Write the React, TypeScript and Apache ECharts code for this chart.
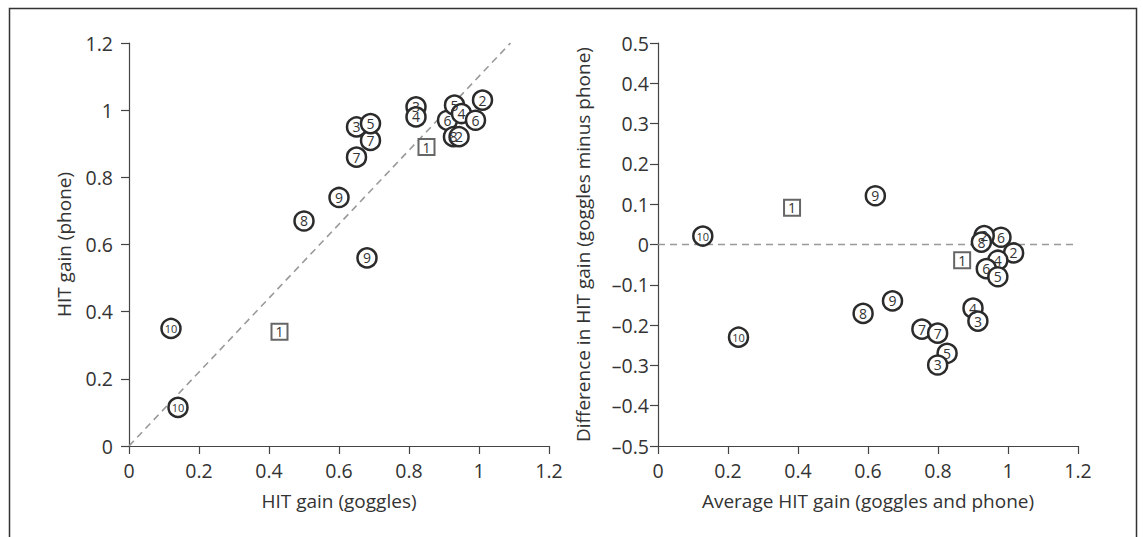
import React, { useEffect, useRef } from "react";
import * as echarts from "echarts";

// Left panel: HIT gain goggles (x) vs phone (y)
const leftCircleLabels = ["10", "10", "9", "9", "8", "7", "7", "3", "5", "3", "4", "6", "5", "4", "6", "2", "8", "2"];
const leftCircleGoggles = [0.12, 0.14, 0.60, 0.68, 0.50, 0.65, 0.69, 0.65, 0.69, 0.82, 0.82, 0.91, 0.93, 0.95, 0.99, 1.01, 0.927, 0.943];
const leftCirclePhone = [0.35, 0.115, 0.74, 0.56, 0.67, 0.86, 0.91, 0.95, 0.96, 1.01, 0.98, 0.97, 1.015, 0.99, 0.97, 1.03, 0.921, 0.921];
const leftSquareGoggles = [0.43, 0.85];
const leftSquarePhone = [0.34, 0.89];
const leftRefX = [0, 1.09];
const leftRefY = [0, 1.2];

// Right panel: average (x) vs difference (y)
const rightCircleLabels = ["10", "10", "9", "9", "8", "7", "7", "5", "3", "4", "3", "6", "2", "4", "6", "5", "2", "8"];
const rightCircleAvg = [0.23, 0.128, 0.621, 0.67, 0.586, 0.754, 0.799, 0.826, 0.799, 0.90, 0.914, 0.98, 1.016, 0.971, 0.938, 0.971, 0.932, 0.924];
const rightCircleDiff = [-0.23, 0.021, 0.121, -0.14, -0.171, -0.21, -0.22, -0.27, -0.299, -0.158, -0.19, 0.018, -0.021, -0.039, -0.06, -0.08, 0.022, 0.006];
const rightSquareAvg = [0.383, 0.869];
const rightSquareDiff = [0.091, -0.039];
const rightRefX = [0, 1.2];
const rightRefY = [0, 0];

const xTicksMax = 1.2;
const leftYMax = 1.2;
const rightYMin = -0.5;
const rightYMax = 0.5;

const FONT = "Open Sans";
const TEXT = "#333";
const AXIS = "#444";
const TICK_FS = 19.5;
const NAME_FS = 19;

function fmt(v: number): string {
  const r = Math.round(v * 10) / 10;
  if (r === 0) return "0";
  const s = String(Math.abs(r));
  return r < 0 ? "\u2013" + s : s;
}

function axisCommon(extra: any, labelMargin: number) {
  return {
    type: "value",
    splitLine: { show: false },
    axisLine: { show: true, onZero: false, lineStyle: { color: AXIS, width: 1.2 } },
    axisTick: { show: true, inside: false, length: 8, lineStyle: { color: AXIS, width: 1.2 } },
    axisLabel: { color: TEXT, fontFamily: FONT, fontSize: TICK_FS, formatter: fmt, margin: labelMargin },
    nameLocation: "middle",
    nameTextStyle: { color: TEXT, fontFamily: FONT, fontSize: NAME_FS },
    ...extra,
  };
}

function circleData(labels: string[], xs: number[], ys: number[]) {
  return labels.map((l, i) => ({
    name: l,
    value: [xs[i], ys[i]],
    label: {
      show: true,
      position: "inside",
      formatter: "{b}",
      color: TEXT,
      fontFamily: FONT,
      fontSize: l.length > 1 ? 11 : 14,
    },
  }));
}

function squareData(xs: number[], ys: number[]) {
  return xs.map((x, i) => ({ name: "1", value: [x, ys[i]] }));
}

export default function App() {
  const ref = useRef<HTMLDivElement>(null);
  useEffect(() => {
    document.body.style.margin = "0";
    if (!ref.current) return;
    const chart = echarts.init(ref.current, undefined, { renderer: "svg" });
    const circleStyle = {
      symbol: "circle",
      symbolSize: 19,
      itemStyle: { color: "#fff", borderColor: "#2b2b2b", borderWidth: 2.5, opacity: 1 },
      label: {
        show: true,
        position: "inside",
        formatter: "{b}",
        color: TEXT,
        fontFamily: FONT,
        fontSize: 14,
      },
      z: 3,
    };
    const squareStyle = {
      symbol: "rect",
      symbolSize: 16,
      itemStyle: { color: "#fff", borderColor: "#666", borderWidth: 2, opacity: 1 },
      label: {
        show: true,
        position: "inside",
        formatter: "{b}",
        color: TEXT,
        fontFamily: FONT,
        fontSize: 14,
      },
      z: 3,
    };
    const dashed = {
      type: "line",
      showSymbol: false,
      symbol: "none",
      silent: true,
      lineStyle: { color: "#999", width: 1.6, type: [7, 5] },
      z: 1,
    };
    chart.setOption({
      animation: false,
      backgroundColor: "#fff",
      textStyle: { fontFamily: FONT },
      graphic: [
        {
          type: "rect",
          shape: { x: 9.5, y: 8.5, width: 1127, height: 640 },
          style: { fill: "none", stroke: "#333", lineWidth: 1.5 },
          silent: true,
        },
      ],
      grid: [
        { left: 129, top: 43, width: 420, height: 403 },
        { left: 658, top: 43, width: 420, height: 403 },
      ],
      xAxis: [
        axisCommon({
          gridIndex: 0,
          min: 0,
          max: xTicksMax,
          interval: 0.2,
          name: "HIT gain (goggles)",
          nameGap: 45,
        }, 14),
        axisCommon({
          gridIndex: 1,
          min: 0,
          max: xTicksMax,
          interval: 0.2,
          name: "Average HIT gain (goggles and phone)",
          nameGap: 45,
        }, 14),
      ],
      yAxis: [
        axisCommon({
          gridIndex: 0,
          min: 0,
          max: leftYMax,
          interval: 0.2,
          name: "HIT gain (phone)",
          nameGap: 56,
        }, 16),
        axisCommon({
          gridIndex: 1,
          min: rightYMin,
          max: rightYMax,
          interval: 0.1,
          name: "Difference in HIT gain (goggles minus phone)",
          nameGap: 66,
        }, 9),
      ],
      series: [
        {
          ...dashed,
          xAxisIndex: 0,
          yAxisIndex: 0,
          data: leftRefX.map((x, i) => [x, leftRefY[i]]),
        },
        {
          ...dashed,
          xAxisIndex: 1,
          yAxisIndex: 1,
          data: rightRefX.map((x, i) => [x, rightRefY[i]]),
        },
        {
          type: "scatter",
          xAxisIndex: 0,
          yAxisIndex: 0,
          ...circleStyle,
          data: circleData(leftCircleLabels, leftCircleGoggles, leftCirclePhone),
        },
        {
          type: "scatter",
          xAxisIndex: 0,
          yAxisIndex: 0,
          ...squareStyle,
          data: squareData(leftSquareGoggles, leftSquarePhone),
        },
        {
          type: "scatter",
          xAxisIndex: 1,
          yAxisIndex: 1,
          ...circleStyle,
          data: circleData(rightCircleLabels, rightCircleAvg, rightCircleDiff),
        },
        {
          type: "scatter",
          xAxisIndex: 1,
          yAxisIndex: 1,
          ...squareStyle,
          data: squareData(rightSquareAvg, rightSquareDiff),
        },
      ],
    });
    return () => chart.dispose();
  }, []);
  return <div ref={ref} style={{ width: 1143, height: 537 }} />;
}
